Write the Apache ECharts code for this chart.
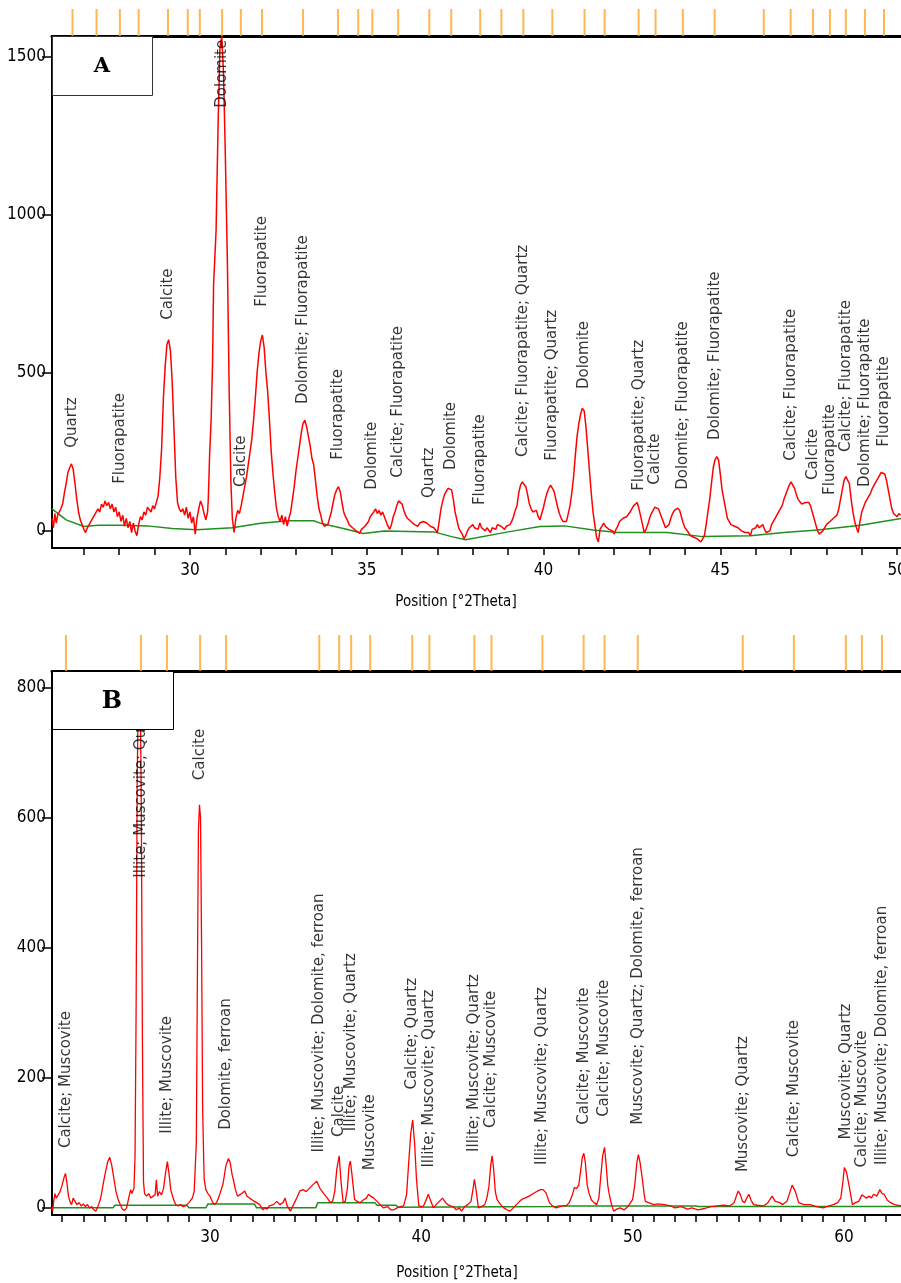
<!DOCTYPE html>
<html>
<head>
<meta charset="utf-8">
<script src="https://cdn.jsdelivr.net/npm/echarts/dist/echarts.min.js"></script>
<style>
  html, body { margin: 0; padding: 0; background: #fff; overflow: hidden; }
  #main { width: 901px; height: 1283px; }
</style>
</head>
<body>
<div id="main"></div>
<script>
// ---- panel A : measured pattern [2theta, counts] ----
var aPattern = [
  [26.10,40],[26.14,10],[26.18,55],[26.22,25],[26.26,50],[26.30,45],[26.35,70],[26.40,85],[26.45,120],[26.50,150],
  [26.55,185],[26.60,200],[26.65,212],[26.70,195],[26.75,150],[26.80,100],[26.85,60],[26.90,35],[26.95,20],[27.00,5],
  [27.05,-5],[27.10,10],[27.15,5],[27.20,30],[27.25,25],[27.30,50],[27.35,45],[27.40,70],[27.45,60],[27.50,85],
  [27.55,75],[27.60,95],[27.65,80],[27.70,90],[27.75,70],[27.80,85],[27.85,60],[27.90,75],[27.95,45],[28.00,60],
  [28.05,30],[28.10,50],[28.15,15],[28.20,40],[28.25,10],[28.30,30],[28.35,-5],[28.40,25],[28.45,0],[28.50,-15],
  [28.55,20],[28.60,45],[28.65,35],[28.70,60],[28.75,50],[28.80,75],[28.85,70],[28.90,60],[28.95,80],[29.00,70],
  [29.05,75],[29.10,110],[29.15,170],[29.20,260],[29.25,420],[29.30,520],[29.35,590],[29.40,605],[29.45,570],[29.50,470],
  [29.55,320],[29.60,170],[29.65,90],[29.70,70],[29.75,60],[29.80,70],[29.85,50],[29.90,75],[29.95,40],[30.00,60],
  [30.05,25],[30.10,45],[30.15,-10],[30.20,40],[30.25,70],[30.30,95],[30.35,80],[30.40,55],[30.45,35],[30.50,60],
  [30.52,100],[30.56,250],[30.60,350],[30.64,530],[30.67,780],[30.74,950],[30.80,1300],[30.85,1530],[30.90,1565],[30.95,1450],
  [31.00,1200],[31.06,850],[31.11,450],[31.16,150],[31.20,40],[31.25,-5],[31.30,40],[31.35,65],[31.40,55],[31.45,80],
  [31.50,110],[31.55,140],[31.60,170],[31.65,210],[31.70,250],[31.75,290],[31.80,350],[31.85,420],[31.90,500],[31.95,560],
  [32.00,600],[32.05,620],[32.10,580],[32.15,500],[32.20,440],[32.25,350],[32.30,250],[32.35,180],[32.40,120],[32.45,70],
  [32.50,45],[32.55,30],[32.60,50],[32.65,20],[32.70,45],[32.75,15],[32.80,40],[32.85,60],[32.90,100],[32.95,140],
  [33.00,190],[33.05,230],[33.10,270],[33.15,310],[33.20,340],[33.25,350],[33.30,330],[33.35,300],[33.40,270],[33.45,230],
  [33.50,210],[33.55,160],[33.60,110],[33.65,70],[33.70,50],[33.75,25],[33.80,15],[33.85,10],[33.90,20],[33.95,40],
  [34.00,60],[34.05,90],[34.10,115],[34.15,130],[34.20,140],[34.25,125],[34.30,90],[34.35,60],[34.40,45],[34.45,35],
  [34.50,20],[34.55,25],[34.60,10],[34.65,15],[34.70,0],[34.75,-5],[34.80,-8],[34.85,5],[34.90,0],[34.95,15],
  [35.00,20],[35.05,30],[35.10,45],[35.15,50],[35.20,60],[35.25,70],[35.30,55],[35.35,65],[35.40,50],[35.45,60],
  [35.50,45],[35.55,40],[35.60,15],[35.65,5],[35.70,20],[35.75,45],[35.80,60],[35.85,80],[35.90,95],[35.95,100],
  [36.00,85],[36.05,65],[36.10,50],[36.15,40],[36.20,45],[36.25,30],[36.30,35],[36.35,20],[36.40,25],[36.45,15],
  [36.50,25],[36.55,20],[36.60,30],[36.65,35],[36.70,25],[36.75,30],[36.80,15],[36.85,20],[36.90,10],[36.95,5],
  [37.00,-5],[37.05,30],[37.10,70],[37.15,95],[37.20,115],[37.25,125],[37.30,135],[37.35,140],[37.40,130],[37.45,100],
  [37.50,60],[37.55,35],[37.60,10],[37.65,5],[37.70,-10],[37.75,-25],[37.80,-15],[37.85,0],[37.90,10],[37.95,5],
  [38.00,20],[38.05,10],[38.10,15],[38.15,5],[38.20,25],[38.25,10],[38.30,15],[38.35,0],[38.40,10],[38.45,5],
  [38.50,-5],[38.55,10],[38.60,15],[38.65,5],[38.70,20],[38.75,25],[38.80,15],[38.85,10],[38.90,5],[38.95,15],
  [39.00,10],[39.05,20],[39.10,30],[39.15,45],[39.20,65],[39.25,80],[39.30,120],[39.35,145],[39.40,155],[39.45,160],
  [39.50,140],[39.55,115],[39.60,85],[39.65,70],[39.70,60],[39.75,55],[39.80,65],[39.85,45],[39.90,35],[39.95,55],
  [40.00,75],[40.05,100],[40.10,120],[40.15,135],[40.20,145],[40.25,140],[40.30,125],[40.35,100],[40.40,75],[40.45,55],
  [40.50,40],[40.55,30],[40.60,25],[40.65,30],[40.70,55],[40.75,80],[40.80,120],[40.85,170],[40.90,240],[40.95,300],
  [41.00,340],[41.05,370],[41.10,388],[41.15,380],[41.20,330],[41.25,260],[41.30,190],[41.35,120],[41.40,60],[41.45,20],
  [41.50,-20],[41.55,-35],[41.60,5],[41.65,10],[41.70,25],[41.75,15],[41.80,20],[41.85,5],[41.90,10],[41.95,0],
  [42.00,-10],[42.05,5],[42.10,15],[42.15,30],[42.20,25],[42.25,40],[42.30,35],[42.35,45],[42.40,50],[42.45,60],
  [42.50,65],[42.55,80],[42.60,75],[42.65,90],[42.70,70],[42.75,45],[42.80,20],[42.85,-5],[42.90,5],[42.95,20],
  [43.00,40],[43.05,55],[43.10,65],[43.15,75],[43.20,78],[43.25,70],[43.30,55],[43.35,40],[43.40,25],[43.45,10],
  [43.50,5],[43.55,20],[43.60,40],[43.65,55],[43.70,65],[43.75,70],[43.80,72],[43.85,65],[43.90,45],[43.95,25],
  [44.00,10],[44.05,5],[44.10,-5],[44.15,-15],[44.20,-10],[44.25,-20],[44.30,-15],[44.35,-25],[44.40,-20],[44.45,-35],
  [44.50,-25],[44.55,-15],[44.60,20],[44.65,60],[44.70,100],[44.75,150],[44.80,200],[44.85,225],[44.90,235],[44.95,225],
  [45.00,180],[45.05,130],[45.10,100],[45.15,70],[45.20,40],[45.25,30],[45.30,20],[45.35,25],[45.40,15],[45.45,20],
  [45.50,10],[45.55,15],[45.60,0],[45.65,5],[45.70,-5],[45.75,-10],[45.80,-5],[45.85,-15],[45.90,5],[45.95,0],
  [46.00,10],[46.05,20],[46.10,10],[46.15,15],[46.20,20],[46.25,5],[46.30,-5],[46.35,-10],[46.40,0],[46.45,20],
  [46.50,30],[46.55,40],[46.60,50],[46.65,60],[46.70,65],[46.75,80],[46.80,100],[46.85,115],[46.90,130],[46.95,145],
  [47.00,155],[47.05,150],[47.10,135],[47.15,115],[47.20,100],[47.25,95],[47.30,85],[47.35,80],[47.40,90],[47.45,85],
  [47.50,90],[47.55,80],[47.60,60],[47.65,40],[47.70,20],[47.75,0],[47.80,-10],[47.85,-15],[47.90,0],[47.95,10],
  [48.00,20],[48.05,15],[48.10,30],[48.15,25],[48.20,40],[48.25,35],[48.30,50],[48.35,70],[48.40,100],[48.45,130],
  [48.50,160],[48.55,172],[48.60,177],[48.65,150],[48.70,100],[48.75,60],[48.80,30],[48.85,10],[48.90,-5],[48.95,30],
  [49.00,60],[49.05,75],[49.10,90],[49.15,100],[49.20,110],[49.25,120],[49.30,135],[49.35,145],[49.40,155],[49.45,165],
  [49.50,175],[49.55,185],[49.60,188],[49.65,180],[49.70,160],[49.75,130],[49.80,100],[49.85,70],[49.90,55],[49.95,50],
  [50.00,45],[50.05,55],[50.10,50]
];
// panel A : background
var aBackground = [
  [26.10,70],[26.50,35],[27.00,14],[27.40,18],[28.00,18],[28.80,16],[29.50,8],[30.20,4],[31.20,10],[32.00,24],
  [32.80,32],[33.50,32],[33.70,24],[34.40,6],[34.90,-8],[35.50,0],[36.90,-3],[37.40,-18],[37.80,-28],[39.00,-3],
  [39.90,14],[40.60,16],[41.40,3],[42.10,-5],[43.50,-5],[44.50,-18],[45.85,-15],[46.80,-5],[47.75,3],[48.97,18],[50.11,39]
];
// panel A : reference lines and phase labels
var aRefLines = [26.68,27.36,28.02,28.55,29.38,29.94,30.28,30.91,31.44,32.04,33.20,34.19,34.76,35.16,35.89,36.77,
  37.39,38.21,38.81,39.43,40.25,41.16,41.73,42.69,43.17,43.94,44.84,46.23,46.99,47.62,48.10,48.55,49.09,49.63];
var aLabelPos = [26.68,28.02,29.38,30.91,31.44,32.04,33.20,34.19,35.16,35.89,36.77,37.39,38.21,39.43,40.25,41.16,
  42.69,43.17,43.94,44.84,46.99,47.62,48.10,48.55,49.09,49.63];
var aLabelBase = [263,149,668,1339,139,709,402,225,130,168,104,193,82,234,222,449,127,146,130,288,222,161,114,250,139,266];
var aLabelText = ['Quartz','Fluorapatite','Calcite','Dolomite','Calcite','Fluorapatite','Dolomite; Fluorapatite',
  'Fluorapatite','Dolomite','Calcite; Fluorapatite','Quartz','Dolomite','Fluorapatite','Calcite; Fluorapatite; Quartz',
  'Fluorapatite; Quartz','Dolomite','Fluorapatite; Quartz','Calcite','Dolomite; Fluorapatite','Dolomite; Fluorapatite',
  'Calcite; Fluorapatite','Calcite','Fluorapatite','Calcite; Fluorapatite','Dolomite; Fluorapatite','Fluorapatite'];

// ---- panel B : measured pattern ----
var bPattern = [
  [22.50,0],[22.55,-5],[22.60,10],[22.66,22],[22.72,15],[22.80,18],[22.90,25],[23.00,35],[23.10,48],[23.16,53],
  [23.22,40],[23.30,18],[23.37,10],[23.45,5],[23.52,15],[23.60,17],[23.70,5],[23.80,8],[23.90,3],[24.00,6],
  [24.10,2],[24.20,5],[24.30,0],[24.40,2],[24.50,-3],[24.60,-5],[24.70,3],[24.80,12],[24.87,23],[24.95,38],
  [25.05,55],[25.15,70],[25.25,78],[25.35,65],[25.45,45],[25.55,25],[25.65,13],[25.75,5],[25.85,-2],[25.95,-4],
  [26.05,0],[26.15,15],[26.24,28],[26.30,22],[26.40,30],[26.45,80],[26.50,300],[26.55,650],[26.60,790],[26.65,800],
  [26.70,790],[26.75,600],[26.80,250],[26.85,40],[26.90,22],[27.00,18],[27.10,22],[27.20,15],[27.30,18],[27.40,20],
  [27.46,43],[27.52,18],[27.60,25],[27.70,20],[27.80,30],[27.90,55],[27.98,71],[28.05,55],[28.14,28],[28.25,15],
  [28.37,5],[28.50,3],[28.60,5],[28.70,2],[28.85,3],[29.00,8],[29.16,15],[29.25,25],[29.35,100],[29.40,350],
  [29.45,580],[29.50,620],[29.55,600],[29.60,400],[29.65,150],[29.72,45],[29.80,28],[29.90,22],[30.00,18],[30.10,10],
  [30.20,5],[30.30,8],[30.40,15],[30.50,25],[30.60,35],[30.65,44],[30.75,65],[30.87,76],[30.95,70],[31.05,50],
  [31.10,44],[31.20,28],[31.30,18],[31.40,20],[31.50,22],[31.64,26],[31.75,18],[31.87,15],[32.00,12],[32.10,10],
  [32.20,8],[32.35,5],[32.50,-3],[32.60,0],[32.70,-2],[32.80,3],[33.00,5],[33.16,10],[33.30,5],[33.45,8],
  [33.55,15],[33.65,3],[33.80,-5],[33.95,5],[34.10,15],[34.25,26],[34.40,28],[34.55,25],[34.70,30],[34.85,35],
  [35.05,41],[35.20,30],[35.40,21],[35.55,15],[35.69,8],[35.80,10],[35.90,25],[36.00,60],[36.11,80],[36.20,40],
  [36.30,8],[36.40,10],[36.50,30],[36.58,65],[36.64,72],[36.72,50],[36.84,13],[36.95,10],[37.10,8],[37.25,12],
  [37.40,15],[37.50,21],[37.60,18],[37.75,15],[37.90,10],[38.05,5],[38.20,0],[38.40,2],[38.55,-3],[38.70,-3],
  [38.85,0],[39.00,2],[39.16,3],[39.30,20],[39.40,69],[39.50,115],[39.59,135],[39.68,100],[39.77,44],[39.88,3],
  [40.00,2],[40.10,3],[40.20,10],[40.33,21],[40.45,10],[40.57,0],[40.70,5],[40.85,10],[41.00,15],[41.15,8],
  [41.25,5],[41.37,3],[41.50,2],[41.65,-3],[41.80,0],[41.90,-5],[42.05,2],[42.20,5],[42.35,10],[42.45,30],
  [42.51,44],[42.58,30],[42.70,0],[42.85,2],[43.00,5],[43.10,15],[43.20,33],[43.28,65],[43.35,80],[43.42,60],
  [43.50,25],[43.58,13],[43.75,5],[43.90,0],[44.05,-3],[44.20,-5],[44.35,0],[44.50,5],[44.65,10],[44.75,13],
  [44.90,15],[45.10,18],[45.30,22],[45.50,26],[45.65,28],[45.76,28],[45.90,23],[46.06,8],[46.20,3],[46.38,0],
  [46.55,2],[46.70,3],[46.85,3],[47.00,8],[47.15,20],[47.24,31],[47.35,30],[47.45,35],[47.55,60],[47.62,78],
  [47.69,84],[47.76,70],[47.85,35],[47.93,23],[48.05,12],[48.17,8],[48.30,5],[48.40,15],[48.48,44],[48.58,80],
  [48.67,93],[48.75,65],[48.82,35],[48.88,23],[49.00,5],[49.10,-5],[49.25,-2],[49.40,0],[49.60,-3],[49.80,3],
  [50.00,13],[50.10,35],[50.20,70],[50.27,82],[50.35,70],[50.46,44],[50.55,20],[50.60,10],[50.75,8],[51.00,5],
  [51.20,6],[51.50,5],[51.80,3],[52.00,0],[52.30,2],[52.60,-2],[52.80,0],[53.10,-3],[53.40,-1],[53.70,2],
  [54.00,3],[54.30,4],[54.60,3],[54.80,8],[54.95,22],[55.00,26],[55.10,20],[55.20,10],[55.30,8],[55.40,15],
  [55.50,21],[55.60,12],[55.72,5],[55.90,4],[56.20,3],[56.40,8],[56.60,18],[56.75,10],[56.96,8],[57.10,5],
  [57.30,10],[57.45,25],[57.55,35],[57.60,37],[57.70,25],[57.86,8],[58.10,5],[58.40,5],[58.70,2],[59.00,0],
  [59.30,3],[59.50,5],[59.70,8],[59.85,15],[59.95,40],[60.02,62],[60.06,65],[60.12,55],[60.25,33],[60.40,5],
  [60.55,8],[60.70,10],[60.85,20],[60.93,23],[61.05,15],[61.20,18],[61.30,15],[61.40,21],[61.55,18],[61.70,28],
  [61.80,22],[61.90,21],[62.05,12],[62.20,8],[62.40,5],[62.70,3]
];
var bBackground = [
  [22.50,0],[25.40,0],[25.50,4],[28.90,4],[29.00,0],[29.80,0],[29.90,6],[32.10,6],[32.20,0],[35.00,0],[35.10,8],
  [37.80,8],[37.90,4],[38.80,4],[38.90,1],[46.40,2],[46.50,3],[53.00,3],[53.10,2],[62.70,2]
];
var bRefLines = [23.18,26.73,27.96,29.53,30.76,35.17,36.11,36.68,37.58,39.57,40.38,42.51,43.32,45.73,47.68,48.67,
  50.24,55.21,57.63,60.09,60.85,61.80];
var bLabelPos = bRefLines;
var bLabelBase = [92,508,114,658,120,85,109,118,58,182,62,86,123,66,128,140,128,55,78,105,62,66];
var bLabelText = ['Calcite; Muscovite','Illite; Muscovite; Quartz','Illite; Muscovite','Calcite','Dolomite, ferroan',
  'Illite; Muscovite; Dolomite, ferroan','Calcite','Illite; Muscovite; Quartz','Muscovite','Calcite; Quartz',
  'Illite; Muscovite; Quartz','Illite; Muscovite; Quartz','Calcite; Muscovite','Illite; Muscovite; Quartz',
  'Calcite; Muscovite','Calcite; Muscovite','Muscovite; Quartz; Dolomite, ferroan','Muscovite; Quartz',
  'Calcite; Muscovite','Muscovite; Quartz','Calcite; Muscovite','Illite; Muscovite; Dolomite, ferroan'];

var aTicks = [], bTicks = [];
for (var t = 27; t <= 50; t++) aTicks.push(t);
for (var t2 = 23; t2 <= 62; t2++) bTicks.push(t2);
var aXLabels = [30, 35, 40, 45, 50];
var bXLabels = [30, 40, 50, 60];
var aYTicks = [0, 500, 1000, 1500];
var bYTicks = [0, 200, 400, 600, 800];

var narrow = "'Liberation Sans Narrow', 'DejaVu Sans Condensed', 'Arial Narrow', sans-serif";
var labelFont = "'DejaVu Sans', Verdana, sans-serif";
var plain = function (v) { return String(v); };

function bottomAxis(grid, min, max, ticks, labels) {
  return {
    type: 'value', gridIndex: grid, min: min, max: max, position: 'bottom',
    axisLine: { show: true, onZero: false, lineStyle: { color: '#000', width: 2 } },
    axisTick: { show: true, inside: false, length: 7, customValues: ticks, lineStyle: { color: '#000', width: 1.5 } },
    axisLabel: { show: true, customValues: labels, formatter: plain, margin: 14, color: '#000', fontSize: 17, fontFamily: narrow },
    splitLine: { show: false }
  };
}
function topAxis(grid, min, max) {
  return {
    type: 'value', gridIndex: grid, min: min, max: max, position: 'top',
    axisLine: { show: true, onZero: false, lineStyle: { color: '#000', width: 3 } },
    axisTick: { show: false }, axisLabel: { show: false }, splitLine: { show: false }
  };
}
function hiddenAxis(grid, min, max) {
  return { type: 'value', gridIndex: grid, min: min, max: max, show: false, splitLine: { show: false } };
}
function leftAxis(grid, min, max, ticks) {
  return {
    type: 'value', gridIndex: grid, min: min, max: max,
    axisLine: { show: true, onZero: false, lineStyle: { color: '#000', width: 2 } },
    axisTick: { show: true, length: 10, customValues: ticks, lineStyle: { color: '#000', width: 1.5 } },
    axisLabel: { show: true, customValues: ticks, formatter: plain, margin: 6, color: '#000', fontSize: 17, fontFamily: narrow },
    splitLine: { show: false }
  };
}
function labelData(pos, base, text) {
  var out = [];
  for (var i = 0; i < pos.length; i++) out.push({ value: [pos[i], base[i]], name: text[i] });
  return out;
}
function refData(pos) {
  return pos.map(function (p) { return [p, 0.5]; });
}
function labelSeries(xi, yi, data) {
  return {
    type: 'scatter', xAxisIndex: xi, yAxisIndex: yi, data: data, symbolSize: 0, z: 5, silent: true,
    label: { show: true, position: [0, 0], rotate: 90, align: 'left', verticalAlign: 'middle',
      formatter: '{b}', color: '#000', fontSize: 15, fontFamily: labelFont }
  };
}

var myChart = echarts.init(document.getElementById('main'), null, { renderer: 'canvas' });
var option = {
  animation: false,
  backgroundColor: '#fff',
  grid: [
    { left: 52, top: 36, right: 0, height: 512, outerBoundsMode: 'none' },
    { left: 52, top: 9, right: 0, height: 27, outerBoundsMode: 'none' },
    { left: 52, top: 671, right: 0, height: 544, outerBoundsMode: 'none' },
    { left: 52, top: 635, right: 0, height: 36, outerBoundsMode: 'none' }
  ],
  xAxis: [
    bottomAxis(0, 26.1, 50.11, aTicks, aXLabels),
    topAxis(0, 26.1, 50.11),
    hiddenAxis(1, 26.1, 50.11),
    bottomAxis(2, 22.52, 62.7, bTicks, bXLabels),
    topAxis(2, 22.52, 62.7),
    hiddenAxis(3, 22.52, 62.7)
  ],
  yAxis: [
    leftAxis(0, -54, 1566, aYTicks),
    hiddenAxis(1, 0, 1),
    leftAxis(2, -11, 826, bYTicks),
    hiddenAxis(3, 0, 1)
  ],
  series: [
    { type: 'line', xAxisIndex: 0, yAxisIndex: 0, data: aBackground, symbol: 'none', z: 2,
      lineStyle: { color: '#1f8f1f', width: 1.5 } },
    { type: 'line', xAxisIndex: 0, yAxisIndex: 0, data: aPattern, symbol: 'none', z: 3,
      lineStyle: { color: '#ff0000', width: 1.5 } },
    labelSeries(0, 0, labelData(aLabelPos, aLabelBase, aLabelText)),
    { type: 'scatter', xAxisIndex: 2, yAxisIndex: 1, data: refData(aRefLines), symbol: 'rect',
      symbolSize: [2, 27], itemStyle: { color: '#ffa524' }, silent: true },
    { type: 'line', xAxisIndex: 3, yAxisIndex: 2, data: bBackground, symbol: 'none', z: 2,
      lineStyle: { color: '#1f8f1f', width: 1.5 } },
    { type: 'line', xAxisIndex: 3, yAxisIndex: 2, data: bPattern, symbol: 'none', z: 3,
      lineStyle: { color: '#ff0000', width: 1.3 } },
    labelSeries(3, 2, labelData(bLabelPos, bLabelBase, bLabelText)),
    { type: 'scatter', xAxisIndex: 5, yAxisIndex: 3, data: refData(bRefLines), symbol: 'rect',
      symbolSize: [2, 36], itemStyle: { color: '#ffa524' }, silent: true }
  ],
  graphic: [
    { type: 'rect', left: 52, top: 36, z: 100, shape: { width: 100, height: 59 },
      style: { fill: '#fff', stroke: '#333', lineWidth: 1 } },
    { type: 'text', x: 102, y: 67, z: 101,
      style: { text: 'A', fill: '#000', font: "bold 21px 'DejaVu Serif', serif", align: 'center', verticalAlign: 'middle' } },
    { type: 'rect', left: 52, top: 671, z: 100, shape: { width: 121, height: 58 },
      style: { fill: '#fff', stroke: '#000', lineWidth: 1 } },
    { type: 'text', x: 112, y: 702, z: 101,
      style: { text: 'B', fill: '#000', font: "bold 24px 'DejaVu Serif', serif", align: 'center', verticalAlign: 'middle' } },
    { type: 'text', x: 456, y: 602, z: 101,
      style: { text: 'Position [°2Theta]', fill: '#000', font: "15px " + narrow, align: 'center', verticalAlign: 'middle' } },
    { type: 'text', x: 457, y: 1273, z: 101,
      style: { text: 'Position [°2Theta]', fill: '#000', font: "15px " + narrow, align: 'center', verticalAlign: 'middle' } }
  ]
};
myChart.setOption(option);
</script>
</body>
</html>
